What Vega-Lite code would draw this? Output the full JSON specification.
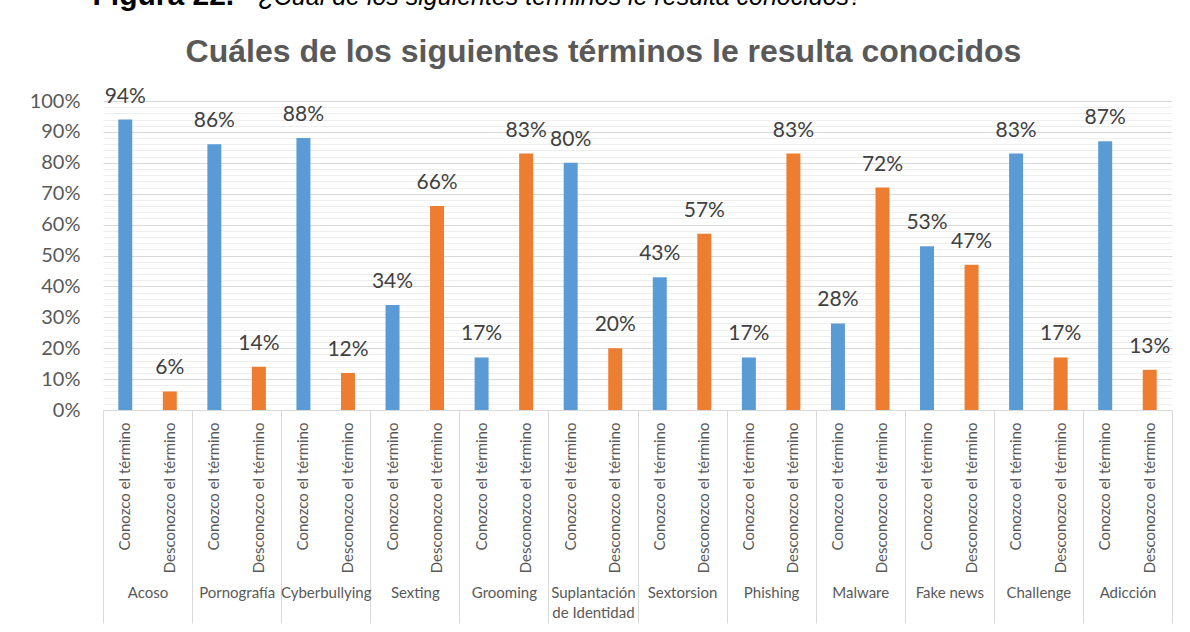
{
  "$schema": "https://vega.github.io/schema/vega-lite/v6.json",
  "width": 1069,
  "height": 309,
  "autosize": {"type": "none"},
  "padding": {"left": 103, "top": 101, "right": 18, "bottom": 222},
  "background": "white",
  "title": {
    "text": "Cuáles de los siguientes términos le resulta conocidos",
    "anchor": "middle",
    "frame": "group",
    "font": "Liberation Sans",
    "fontSize": 32,
    "fontWeight": "bold",
    "color": "#595959",
    "dx": -34,
    "offset": -89
  },
  "data": {
    "values": [
      {"key": "Acoso|Conozco el término", "grupo": "Acoso", "estado": "Conozco el término", "valor": 0.94},
      {"key": "Acoso|Desconozco el término", "grupo": "Acoso", "estado": "Desconozco el término", "valor": 0.06},
      {"key": "Pornografía|Conozco el término", "grupo": "Pornografía", "estado": "Conozco el término", "valor": 0.86},
      {"key": "Pornografía|Desconozco el término", "grupo": "Pornografía", "estado": "Desconozco el término", "valor": 0.14},
      {"key": "Cyberbullying|Conozco el término", "grupo": "Cyberbullying", "estado": "Conozco el término", "valor": 0.88},
      {"key": "Cyberbullying|Desconozco el término", "grupo": "Cyberbullying", "estado": "Desconozco el término", "valor": 0.12},
      {"key": "Sexting|Conozco el término", "grupo": "Sexting", "estado": "Conozco el término", "valor": 0.34},
      {"key": "Sexting|Desconozco el término", "grupo": "Sexting", "estado": "Desconozco el término", "valor": 0.66},
      {"key": "Grooming|Conozco el término", "grupo": "Grooming", "estado": "Conozco el término", "valor": 0.17},
      {"key": "Grooming|Desconozco el término", "grupo": "Grooming", "estado": "Desconozco el término", "valor": 0.83},
      {"key": "Suplantación de Identidad|Conozco el término", "grupo": "Suplantación de Identidad", "estado": "Conozco el término", "valor": 0.80},
      {"key": "Suplantación de Identidad|Desconozco el término", "grupo": "Suplantación de Identidad", "estado": "Desconozco el término", "valor": 0.20},
      {"key": "Sextorsion|Conozco el término", "grupo": "Sextorsion", "estado": "Conozco el término", "valor": 0.43},
      {"key": "Sextorsion|Desconozco el término", "grupo": "Sextorsion", "estado": "Desconozco el término", "valor": 0.57},
      {"key": "Phishing|Conozco el término", "grupo": "Phishing", "estado": "Conozco el término", "valor": 0.17},
      {"key": "Phishing|Desconozco el término", "grupo": "Phishing", "estado": "Desconozco el término", "valor": 0.83},
      {"key": "Malware|Conozco el término", "grupo": "Malware", "estado": "Conozco el término", "valor": 0.28},
      {"key": "Malware|Desconozco el término", "grupo": "Malware", "estado": "Desconozco el término", "valor": 0.72},
      {"key": "Fake news|Conozco el término", "grupo": "Fake news", "estado": "Conozco el término", "valor": 0.53},
      {"key": "Fake news|Desconozco el término", "grupo": "Fake news", "estado": "Desconozco el término", "valor": 0.47},
      {"key": "Challenge|Conozco el término", "grupo": "Challenge", "estado": "Conozco el término", "valor": 0.83},
      {"key": "Challenge|Desconozco el término", "grupo": "Challenge", "estado": "Desconozco el término", "valor": 0.17},
      {"key": "Adicción|Conozco el término", "grupo": "Adicción", "estado": "Conozco el término", "valor": 0.87},
      {"key": "Adicción|Desconozco el término", "grupo": "Adicción", "estado": "Desconozco el término", "valor": 0.13}
    ]
  },
  "config": {
    "view": {"stroke": null},
    "axis": {"labelFont": "Lato", "titleFont": "Liberation Sans"}
  },
  "encoding": {
    "y": {
      "field": "valor",
      "type": "quantitative",
      "scale": {"domain": [0, 1], "nice": false},
      "axis": {
        "title": "¿Cuál de los siguientes términos le resulta conocidos?",
        "titleAngle": 0,
        "titleX": 155,
        "titleY": -97,
        "titleAlign": "left",
        "titleBaseline": "alphabetic",
        "titleFont": "Liberation Sans",
        "titleFontStyle": "italic",
        "titleFontWeight": "normal",
        "titleFontSize": 25,
        "titleColor": "#000000",
        "values": [0,0.02,0.04,0.06,0.08,0.1,0.12,0.14,0.16,0.18,0.2,0.22,0.24,0.26,0.28,0.3,0.32,0.34,0.36,0.38,0.4,0.42,0.44,0.46,0.48,0.5,0.52,0.54,0.56,0.58,0.6,0.62,0.64,0.66,0.68,0.7,0.72,0.74,0.76,0.78,0.8,0.82,0.84,0.86,0.88,0.9,0.92,0.94,0.96,0.98,1],
        "labelExpr": "round(datum.value * 100) % 10 == 0 ? format(datum.value, '.0%') : ''",
        "labelFontSize": 20,
        "labelColor": "#595959",
        "labelPadding": 23,
        "labelOverlap": false,
        "ticks": false,
        "domain": false,
        "grid": true,
        "gridColor": {"condition": {"test": "round(datum.value * 100) % 10 == 0", "value": "#d9d9d9"}, "value": "#eeeeee"},
        "gridWidth": 1
      }
    }
  },
  "layer": [
    {
      "encoding": {
        "x": {
          "field": "key",
          "type": "nominal",
          "sort": null,
          "scale": {"paddingInner": 0.686, "paddingOuter": 0.343},
          "axis": {
            "title": null,
            "labelExpr": "split(datum.value, '|')[1]",
            "labelAngle": -90,
            "labelAlign": "right",
            "labelBaseline": "middle",
            "labelPadding": 12,
            "labelFontSize": 15,
            "labelColor": "#595959",
            "labelOverlap": false,
            "ticks": false,
            "domain": true,
            "domainColor": "#d9d9d9",
            "domainWidth": 1,
            "grid": false
          }
        }
      },
      "layer": [
        {
          "mark": {"type": "bar"},
          "encoding": {
            "color": {
              "field": "estado",
              "type": "nominal",
              "scale": {"domain": ["Conozco el término", "Desconozco el término"], "range": ["#5b9bd5", "#ed7d31"]},
              "legend": null
            }
          }
        },
        {
          "mark": {"type": "text", "font": "Lato", "fontSize": 21, "color": "#404040", "baseline": "alphabetic", "dy": -17},
          "encoding": {
            "text": {"field": "valor", "type": "quantitative", "format": ".0%"}
          }
        }
      ]
    },
    {
      "mark": {"type": "point", "opacity": 0},
      "encoding": {
        "x": {
          "field": "grupo",
          "type": "nominal",
          "sort": null,
          "scale": {"paddingInner": 0, "paddingOuter": 0},
          "axis": {
            "title": "Figura 22.",
            "titleX": -11,
            "titleY": -406,
            "titleAlign": "left",
            "titleBaseline": "alphabetic",
            "titleAngle": 0,
            "titleFont": "Liberation Sans",
            "titleFontWeight": "bold",
            "titleFontSize": 30,
            "titleColor": "#000000",
            "orient": "bottom",
            "offset": 0,
            "domain": false,
            "tickBand": "extent",
            "ticks": true,
            "tickSize": 213,
            "tickColor": "#d9d9d9",
            "tickWidth": 1,
            "labelAngle": 0,
            "labelAlign": "center",
            "labelBaseline": "top",
            "labelPadding": -38,
            "labelFontSize": 15,
            "labelColor": "#595959",
            "labelLineHeight": 20,
            "labelOverlap": false,
            "labelBound": false,
            "labelExpr": "datum.value == 'Suplantación de Identidad' ? ['Suplantación', 'de Identidad'] : datum.value",
            "grid": false
          }
        }
      }
    }
  ],
  "resolve": {"scale": {"x": "independent"}, "axis": {"x": "independent"}}
}
